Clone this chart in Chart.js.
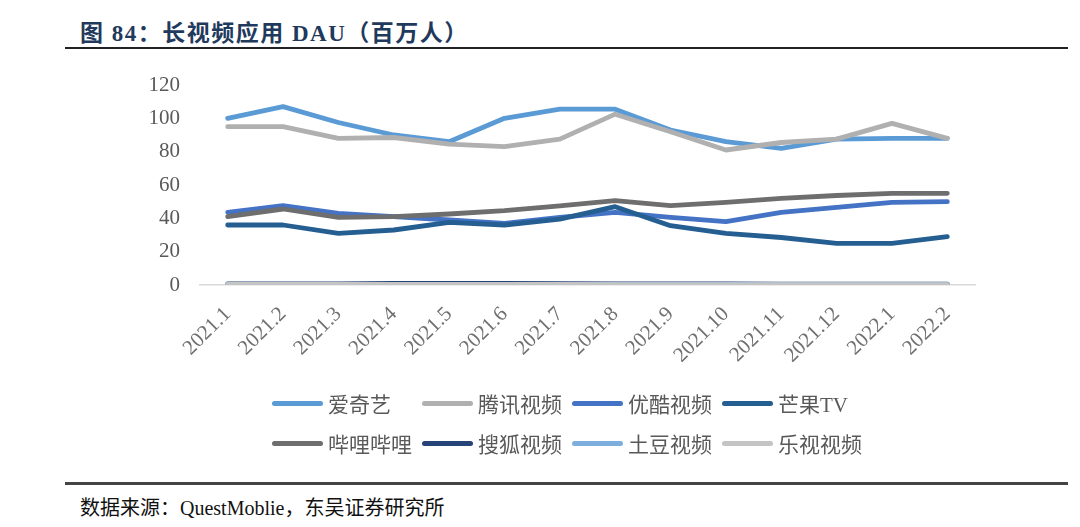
<!DOCTYPE html>
<html>
<head>
<meta charset="utf-8">
<script src="https://cdn.jsdelivr.net/npm/chart.js@4"></script>
<style>
  html, body { margin: 0; padding: 0; background: #fff; }
  body { width: 1080px; height: 527px; position: relative; overflow: hidden;
         font-family: "Liberation Serif", "Noto Sans CJK SC", serif; }
  #title { position: absolute; left: 80px; top: 14px; font-size: 23px; font-weight: bold;
           letter-spacing: 1.5px; color: #1f3a5c; white-space: nowrap; }
  #rule1 { position: absolute; left: 65px; top: 47px; width: 1003px; height: 2px; background: #222; }
  #chartBox { position: absolute; left: 0; top: 60px; width: 1080px; height: 330px; }
  #legend { position: absolute; left: 0; top: 388px; width: 1080px; height: 80px; }
  .item { position: absolute; height: 24px; display: flex; align-items: center;
          font-size: 21px; color: #595959; white-space: nowrap; }
  .swatch { width: 51px; height: 5px; border-radius: 3px; margin-right: 5px; }
  #rule2 { position: absolute; left: 65px; top: 482px; width: 1003px; height: 3px; background: #444; }
  #source { position: absolute; left: 80px; top: 492px; font-size: 20px; color: #111; white-space: nowrap; }
</style>
</head>
<body>
<div id="title">图 84：长视频应用 DAU（百万人）</div>
<div id="rule1"></div>
<div id="chartBox"><canvas id="c"></canvas></div>
<div id="legend"></div>
<div id="rule2"></div>
<div id="source">数据来源：QuestMoblie，东吴证券研究所</div>
<script>
const categories = ["2021.1","2021.2","2021.3","2021.4","2021.5","2021.6","2021.7","2021.8","2021.9","2021.10","2021.11","2021.12","2022.1","2022.2"];
const yTicks = [0, 20, 40, 60, 80, 100, 120];

const iqiyi   = [100, 107, 97.5, 90, 86, 100, 105.5, 105.5, 93, 86, 82, 87.5, 88, 88];
const tencent = [95, 95, 88, 88.5, 84.5, 83, 87.5, 102.5, 92, 81, 85.5, 87.5, 97, 88];
const youku   = [43.6, 47.6, 43, 41, 39, 37, 40.6, 43.6, 40.6, 38, 43.6, 46.6, 49.6, 50];
const mango   = [36, 36, 31, 33, 37.6, 36, 39.5, 47, 35.6, 31, 28.5, 25, 25, 29];
const bilibili= [41, 45.6, 40.6, 41, 42.6, 44.6, 47.5, 50.6, 47.6, 49.6, 52, 53.7, 55, 55];
const sohu    = [0.6, 0.6, 0.7, 0.9, 1.0, 0.9, 0.8, 0.7, 0.6, 0.6, 0.5, 0.5, 0.5, 0.5];
const tudou   = [0.4, 0.4, 0.4, 0.4, 0.4, 0.4, 0.3, 0.3, 0.3, 0.3, 0.3, 0.3, 0.3, 0.3];
const letv    = [0.3, 0.3, 0.3, 0.3, 0.3, 0.3, 0.3, 0.2, 0.2, 0.2, 0.2, 0.2, 0.2, 0.2];

const seriesNames  = ["爱奇艺","腾讯视频","优酷视频","芒果TV","哔哩哔哩","搜狐视频","土豆视频","乐视视频"];
const seriesData   = [iqiyi, tencent, youku, mango, bilibili, sohu, tudou, letv];
const seriesColors = ["#5B9BD5","#B0B0B0","#4472C4","#255E91","#6E6E6E","#264478","#7CAFDD","#C4C4C4"];

const datasets = seriesNames.map((name, i) => ({
  label: name,
  data: seriesData[i],
  borderColor: seriesColors[i],
  backgroundColor: seriesColors[i],
  borderWidth: 4.8,
  borderCapStyle: 'round',
  borderJoinStyle: 'round',
  pointRadius: 0,
  tension: 0,
  fill: false,
  order: -i
}));

const chart = new Chart(document.getElementById('c'), {
  type: 'line',
  data: { labels: categories, datasets },
  options: {
    responsive: true,
    maintainAspectRatio: false,
    animation: false,
    devicePixelRatio: 1,
    layout: { padding: { left: 0, right: 105, top: 25, bottom: 0 } },
    plugins: { legend: { display: false }, tooltip: { enabled: false } },
    scales: {
      x: {
        offset: true,
        grid: { display: false, drawTicks: false },
        border: { display: true, color: '#d9d9d9', width: 1.5 },
        ticks: {
          autoSkip: false, maxRotation: 45, minRotation: 45, padding: 17,
          color: '#707070', font: { family: '"Liberation Serif", serif', size: 21 }
        },
        afterFit: (s) => { s.height = 105; s.paddingLeft = 0; s.paddingRight = 0; }
      },
      y: {
        min: 0, max: 120,
        grid: { display: false, drawTicks: false },
        border: { display: false },
        afterBuildTicks: (s) => { s.ticks = yTicks.map(v => ({ value: v })); },
        ticks: {
          padding: 20, color: '#595959',
          font: { family: '"Liberation Serif", serif', size: 21 }
        },
        afterFit: (s) => { s.width = 200; s.paddingTop = 0; s.paddingBottom = 0; }
      }
    }
  }
});

// legend built from the series arrays
const legend = document.getElementById('legend');
const colX = [272, 422, 572, 722];
const rowY = [3, 43];
seriesNames.forEach((name, i) => {
  const it = document.createElement('div');
  it.className = 'item';
  it.style.left = colX[i % 4] + 'px';
  it.style.top = rowY[Math.floor(i / 4)] + 'px';
  const sw = document.createElement('div');
  sw.className = 'swatch';
  sw.style.background = seriesColors[i];
  const tx = document.createElement('span');
  tx.textContent = name;
  it.appendChild(sw); it.appendChild(tx);
  legend.appendChild(it);
});
</script>
</body>
</html>
